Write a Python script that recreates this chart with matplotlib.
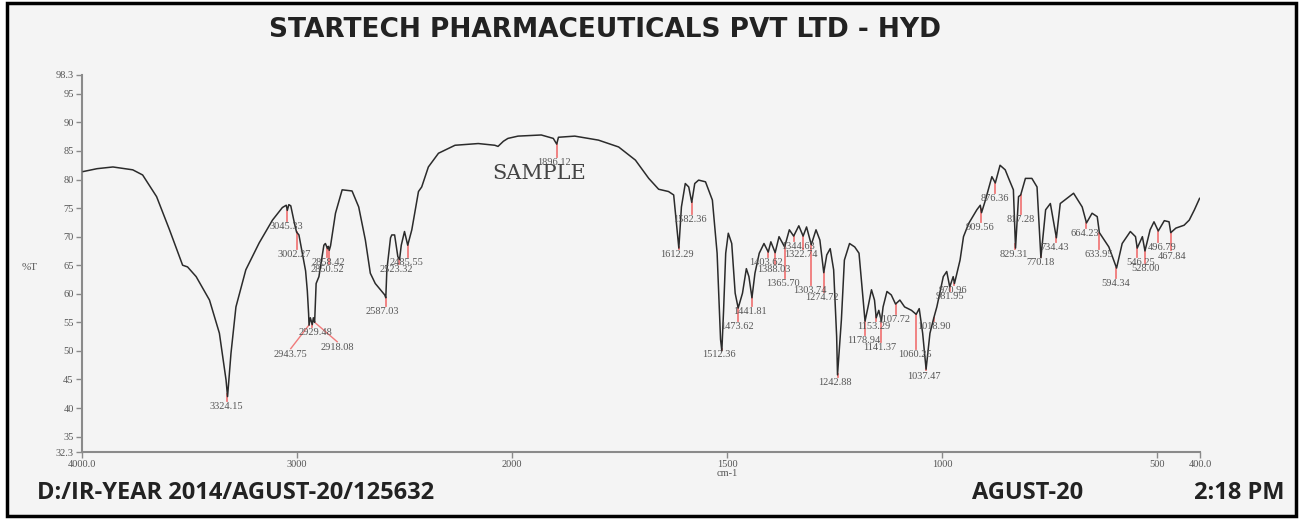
import numpy as np
import matplotlib
matplotlib.use('Agg')
import matplotlib.pyplot as plt
from matplotlib.patches import Rectangle

# spectrum: wavenumber (cm-1) and %T
wavenumber = [3994, 3930, 3856, 3764, 3718, 3653, 3593, 3532, 3509, 3469, 3407, 3361,
              3330, 3323, 3307, 3284, 3238, 3176, 3114, 3068, 3050, 3045, 3038, 3029,
              3010, 3002, 2991, 2975, 2960, 2952, 2946, 2944, 2938, 2929, 2924, 2918,
              2911, 2898, 2875, 2868, 2858, 2854, 2850, 2844, 2821, 2790, 2744, 2713,
              2682, 2659, 2636, 2612, 2592, 2587, 2582, 2565, 2559, 2546, 2531, 2523,
              2515, 2500, 2485, 2466, 2435, 2420, 2389, 2342, 2265, 2157, 2080, 2065,
              2040, 2019,
              1986, 1932, 1904, 1896, 1892, 1854, 1799, 1752, 1713, 1682, 1659, 1636,
              1624, 1616, 1612, 1606, 1597, 1589, 1582, 1575, 1566, 1550, 1534, 1523,
              1515, 1512, 1508, 1503, 1497, 1489, 1481, 1474, 1464, 1455, 1449, 1442,
              1435, 1425, 1414, 1404, 1398, 1388, 1379, 1366, 1355, 1345, 1333, 1323,
              1315, 1304, 1293, 1284, 1275, 1268, 1260, 1252, 1245, 1243, 1234, 1227,
              1215, 1203, 1193, 1186, 1179, 1172, 1164, 1157, 1153, 1147, 1141, 1137,
              1128, 1118, 1108, 1098, 1087, 1071, 1060, 1053, 1045, 1037, 1028, 1019,
              1012, 997, 989, 982, 974, 971, 958, 950, 938, 919, 911, 908,
              899, 884, 876, 865, 853, 845, 834, 829, 822, 817, 806, 791,
              779, 770, 759, 748, 734, 725, 694, 674, 664, 651, 639, 634,
              612, 594, 581, 562, 550, 546, 534, 528, 516, 507, 497, 483,
              472, 468, 456, 437, 425, 413, 401]
transmittance = [81.4, 81.9, 82.2, 81.7, 80.8, 77.0, 71.2, 65.0, 64.7, 63.0, 58.9, 53.1,
                 44.9, 42.0, 49.6, 57.7, 64.2, 68.9, 72.9, 75.1, 75.5, 74.6, 75.6, 75.4,
                 72.0, 70.8, 70.3, 67.1, 64.0, 60.5, 56.5, 54.5, 55.8, 54.6, 55.8, 55.0,
                 61.8, 63.0, 68.5, 68.8, 67.9, 68.3, 67.6, 68.4, 74.1, 78.2, 78.0, 75.2,
                 69.4, 63.6, 61.8, 60.7, 59.8, 59.3, 64.2, 69.8, 70.3, 70.3, 66.5, 66.0,
                 68.5, 70.9, 68.5, 71.2, 77.9, 78.7, 82.2, 84.6, 86.0, 86.3, 86.0, 85.8,
                 86.7, 87.2,
                 87.6, 87.8, 87.2, 86.2, 87.4, 87.6, 86.9, 85.7, 83.4, 80.2, 78.3, 77.9,
                 77.3, 71.2, 68.0, 75.2, 79.3, 78.7, 76.0, 79.3, 79.9, 79.6, 76.4, 67.1,
                 52.0, 50.0, 57.0, 67.1, 70.6, 68.8, 60.1, 57.5, 60.1, 64.4, 63.0, 59.3,
                 63.6, 67.1, 68.8, 67.3, 69.1, 67.2, 70.0, 68.2, 71.2, 70.1, 71.9, 70.1,
                 71.7, 68.6, 71.2, 69.4, 63.7, 66.8, 67.9, 64.2, 52.5, 45.8, 55.4, 65.9,
                 68.8, 68.2, 67.1, 61.2, 55.2, 57.7, 60.7, 58.9, 55.8, 57.1, 55.2, 57.7,
                 60.4, 59.8, 58.2, 58.9, 57.7, 57.1, 56.4, 57.4, 53.1, 46.8, 53.1, 55.8,
                 57.7, 63.0, 63.9, 61.2, 63.0, 61.8, 65.9, 70.0, 72.3, 74.7, 75.5, 74.2,
                 76.4, 80.5, 79.4, 82.5, 81.7, 80.2, 78.2, 68.0, 77.0, 77.3, 80.2, 80.2,
                 78.7, 66.3, 74.7, 75.8, 69.8, 75.8, 77.6, 75.2, 72.4, 74.1, 73.5, 70.7,
                 68.2, 64.5, 68.8, 70.9, 70.0, 68.0, 70.0, 67.5, 71.2, 72.6, 71.0, 72.8,
                 72.6, 70.7, 71.5, 72.0, 72.9, 74.7, 76.7]

# picked peaks
peak_labels = ['3324.15', '3045.33', '3002.27', '2858.42', '2850.52', '2929.48', '2943.75',
               '2918.08', '2587.03', '2523.32', '2485.55', '1896.12', '1612.29', '1582.36',
               '1512.36', '1473.62', '1441.81', '1403.62', '1388.03', '1365.70', '1344.63',
               '1322.74', '1303.74', '1274.72', '1242.88', '1178.94', '1153.29', '1141.37',
               '1107.72', '1060.25', '1037.47', '1018.90', '981.95', '970.96', '909.56',
               '876.36', '829.31', '817.28', '770.18', '734.43', '664.23', '633.95',
               '594.34', '546.25', '528.00', '496.79', '467.84']
peak_w = [float(s) for s in peak_labels]
# where each label sits (wavenumber, %T)
label_w = [3330, 3052, 3014, 2852, 2860, 2913, 3029, 2813, 2602, 2536, 2489, 1902, 1616,
           1587, 1519, 1478, 1447, 1410, 1390, 1371, 1336, 1327, 1307, 1279, 1248, 1182,
           1159, 1145, 1112, 1063, 1042, 1019, 982, 974, 911, 876, 832, 818, 772, 739,
           669, 635, 596, 538, 526, 487, 464]
label_t = [40.3, 71.7, 66.8, 65.4, 64.3, 53.2, 49.4, 50.6, 56.9, 64.3, 65.4, 82.9, 66.8,
           73.0, 49.4, 54.3, 56.9, 65.4, 64.3, 61.8, 68.2, 66.8, 60.5, 59.3, 44.4, 51.8,
           54.3, 50.6, 55.5, 49.4, 45.6, 54.3, 59.5, 60.5, 71.6, 76.7, 66.8, 73.0, 65.4,
           68.1, 70.5, 66.8, 61.8, 65.4, 64.4, 68.1, 66.6]
slanted = ['2943.75', '2918.08']

yticks = [32.3, 35, 40, 45, 50, 55, 60, 65, 70, 75, 80, 85, 90, 95, 98.3]
ytick_labels = ['32.3', '35', '40', '45', '50', '55', '60', '65', '70', '75', '80', '85', '90', '95', '98.3']
xticks = [4000, 3000, 2000, 1500, 1000, 500, 400]
xtick_labels = ['4000.0', '3000', '2000', '1500', '1000', '500', '400.0']


# 4000-2000 drawn at half scale, like the instrument printout
def fwd(w):
    w = np.asarray(w, dtype=float)
    return np.where(w > 2000, 2000 + (w - 2000) / 2.0, w)


def inv(u):
    u = np.asarray(u, dtype=float)
    return np.where(u > 2000, 2000 + (u - 2000) * 2.0, u)


W, H = 1299, 519
fig = plt.figure(figsize=(W / 100, H / 100), dpi=100, facecolor='white')
fig.patches.append(Rectangle((7 / W, 3 / H), 1289 / W, 513 / H, transform=fig.transFigure,
                             facecolor='#f4f4f4', edgecolor='black', linewidth=2.5, zorder=-5))

ax = fig.add_axes([82 / W, 1 - 452 / H, (1200 - 82) / W, (452 - 75) / H])
ax.set_facecolor('none')
ax.set_xscale('function', functions=(fwd, inv))
ax.set_xlim(4000, 400)
ax.set_ylim(32.3, 98.3)

ax.plot(wavenumber, transmittance, color='#2b2b2b', lw=1.1, zorder=3)

wa = np.array(wavenumber[::-1], dtype=float)
ta = np.array(transmittance[::-1], dtype=float)
for lab, pw, lw_, lt in zip(peak_labels, peak_w, label_w, label_t):
    tc = np.interp(pw, wa, ta)
    if lab in slanted:
        ax.plot([pw, lw_], [tc, lt + 1.0], color='#f07a7a', lw=1.0, zorder=2)
    else:
        ax.plot([pw, pw], [tc, lt + 1.0], color='#f07a7a', lw=1.3, zorder=2)
    ax.text(lw_, lt, lab, ha='center', va='center', fontsize=7.5,
            family='Liberation Serif', color='#555555', zorder=4)

ax.set_xticks(xticks)
ax.set_xticklabels(xtick_labels)
ax.set_yticks(yticks)
ax.set_yticklabels(ytick_labels)
ax.minorticks_off()
for s in ['top', 'right']:
    ax.spines[s].set_visible(False)
for s in ['left', 'bottom']:
    ax.spines[s].set_color('#8a8a8a')
    ax.spines[s].set_linewidth(1.5)
ax.tick_params(colors='#8a8a8a', length=4, width=1, labelsize=7.5, labelcolor='#555555', pad=2)
for t in ax.get_xticklabels() + ax.get_yticklabels():
    t.set_family('Liberation Serif')

ax.text(0.409, 81.1, 'SAMPLE', transform=ax.get_yaxis_transform(), ha='center', va='center',
        fontsize=15, family='DejaVu Serif', color='#444444')

fig.text(30 / W, 1 - 267 / H, '%T', ha='center', va='center', fontsize=8,
         family='Liberation Serif', color='#555555')
fig.text(727 / W, 1 - 474 / H, 'cm-1', ha='center', va='center', fontsize=7.5,
         family='Liberation Serif', color='#555555')

fig.text(605 / W, 1 - 30 / H, 'STARTECH PHARMACEUTICALS PVT LTD - HYD', ha='center', va='center',
         fontsize=19, fontweight='bold', family='DejaVu Sans', color='#222222')
fig.text(37 / W, 1 - 493 / H, 'D:/IR-YEAR 2014/AGUST-20/125632', ha='left', va='center',
         fontsize=17, fontweight='bold', family='Open Sans', color='#222222')
fig.text(1028 / W, 1 - 493 / H, 'AGUST-20', ha='center', va='center',
         fontsize=17, fontweight='bold', family='Open Sans', color='#222222')
fig.text(1285 / W, 1 - 493 / H, '2:18 PM', ha='right', va='center',
         fontsize=17, fontweight='bold', family='Open Sans', color='#222222')

fig.savefig('out.png', dpi=100, facecolor='white')
